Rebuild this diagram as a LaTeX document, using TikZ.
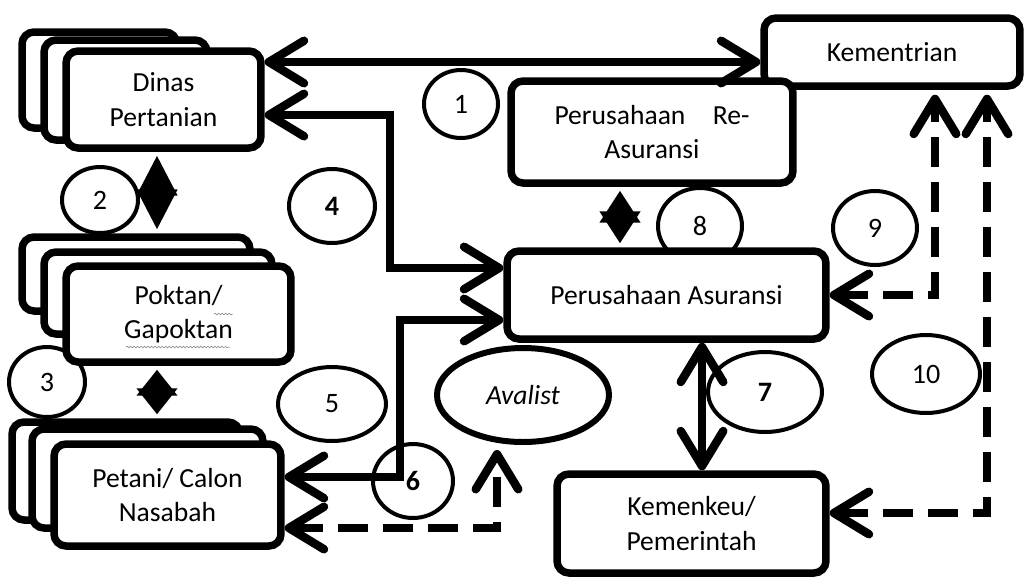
\documentclass[tikz,border=0pt]{standalone}
\usepackage{fontspec}
\setmainfont{Carlito}
\usepackage{tikz}
\usetikzlibrary{shapes.geometric,arrows.meta,decorations.pathmorphing}

\begin{document}
\begin{tikzpicture}[x=0.02cm,y=-0.02cm,
    box/.style={draw,rectangle,rounded corners=0.24cm,line width=0.15cm,fill=white,inner sep=0pt,align=center,font=\fontsize{15.7}{19.5}\selectfont},
    num/.style={draw,ellipse,line width=0.08cm,inner sep=0pt,font=\fontsize{16}{18}\selectfont},
    bnum/.style={num,font=\fontsize{16}{18}\selectfont\bfseries},
    arr/.style={line width=0.17cm,{Straight Barb[length=0.7cm,width=0.85cm,round]}-{Straight Barb[length=0.7cm,width=0.85cm,round]}},
    darr/.style={arr,dash pattern=on 0.6cm off 0.3cm},
    diam/.style={line width=0.1cm,shorten <=0.08cm,shorten >=0.08cm,{Triangle[length=#1,width=0.8cm]}-{Triangle[length=#1,width=0.8cm]}}]
    \useasboundingbox (0,0) rectangle (1027,583);
    % number circles
    \node[num,minimum width=1.48cm,minimum height=1.36cm] (n1) at (461,104) {1};
    \node[num,minimum width=1.52cm,minimum height=1.32cm] (n2) at (100,200) {2};
    \node[num,minimum width=1.52cm,minimum height=1.4cm] (n3) at (47,382) {3};
    \node[bnum,minimum width=1.72cm,minimum height=1.48cm] (n4) at (332,206) {4};
    \node[num,minimum width=2.16cm,minimum height=1.48cm] (n5) at (332,404) {5};
    \node[bnum,minimum width=1.6cm,minimum height=1.48cm] (n6) at (413,481) {6};
    \node[bnum,minimum width=2.28cm,minimum height=1.6cm] (n7) at (765,392) {7};
    \node[num,minimum width=1.68cm,minimum height=1.52cm] (n8) at (700,226) {8};
    \node[num,minimum width=1.68cm,minimum height=1.48cm] (n9) at (875,228) {9};
    \node[num,minimum width=2.16cm,minimum height=1.56cm] (n10) at (926,374) {10};
    % boxes
    \node[box,minimum width=3.1cm,minimum height=1.92cm] (dinasA) at (99.5,80) {};
    \node[box,minimum width=3.26cm,minimum height=2cm] (dinasB) at (125.5,90) {};
    \node[box,minimum width=3.9cm,minimum height=1.94cm] (dinas) at (163.5,99.5) {Dinas\\Pertanian};
    \node[box,minimum width=4.56cm,minimum height=1.48cm] (poktanA) at (136,274) {};
    \node[box,minimum width=4.56cm,minimum height=1.64cm] (poktanB) at (158,293) {};
    \node[box,minimum width=4.5cm,minimum height=1.92cm] (poktan) at (178.5,314) {Poktan/\\Gapoktan};
    \node[box,minimum width=4.56cm,minimum height=1.96cm] (petaniA) at (126,471) {};
    \node[box,minimum width=4.62cm,minimum height=1.98cm] (petaniB) at (147.5,478.5) {};
    \node[box,minimum width=4.54cm,minimum height=2.04cm] (petani) at (167.5,495) {Petani/ Calon\\Nasabah};
    \node[box,minimum width=5.12cm,minimum height=1.36cm] (kem) at (892,52) {Kementrian};
    \node[box,minimum width=5.64cm,minimum height=2.04cm,text width=3.9cm] (reas) at (652,132) {Perusahaan\hfill Re-\\\centering Asuransi};
    \node[box,minimum width=6.38cm,minimum height=1.76cm] (asur) at (666.5,295) {Perusahaan Asuransi};
    \node[box,minimum width=5.38cm,minimum height=1.98cm] (kemk) at (691.5,523.5) {Kemenkeu/\\Pemerintah};
    \node[draw,ellipse,line width=0.12cm,inner sep=0pt,minimum width=3.44cm,minimum height=1.88cm,font=\fontsize{15.7}{18}\selectfont\itshape] (aval) at (523,395) {Avalist};
    % spell check marks
    \draw[gray,line width=0.3pt,decorate,decoration={snake,amplitude=0.5pt,segment length=2pt}] (126,347) -- (230,347);
    \draw[gray,line width=0.3pt,decorate,decoration={snake,amplitude=0.5pt,segment length=2pt}] (214,314) -- (233,314);
    % connectors
    \draw[arr] (dinas.east |- 0,62) -- (kem.west |- 0,62);
    \draw[diam=0.8cm] (dinas.south -| 157,0) -- (poktanA.north -| 157,0);
    \draw[diam=0.52cm] (poktan.south -| 157,0) -- (petaniA.north -| 157,0);
    \draw[arr] (dinas.east |- 0,115) -| (390,268) -- (asur.west |- 0,268);
    \draw[arr] (petani.east |- 0,477) -| (400,320) -- (asur.west |- 0,320);
    \draw[darr] (petani.east |- 0,528) -| ([xshift=-0.52cm,yshift=-0.1cm]aval.south);
    \draw[arr] (asur.south -| 702,0) -- (kemk.north -| 702,0);
    \draw[diam=0.64cm] (reas.south -| 620,0) -- (asur.north -| 620,0);
    \draw[darr] (asur.east) -| ([yshift=-0.1cm]kem.south -| 935,0);
    \draw[darr] (kemk.east |- 0,513) -| ([yshift=-0.1cm]kem.south -| 987,0);
\end{tikzpicture}
\end{document}
